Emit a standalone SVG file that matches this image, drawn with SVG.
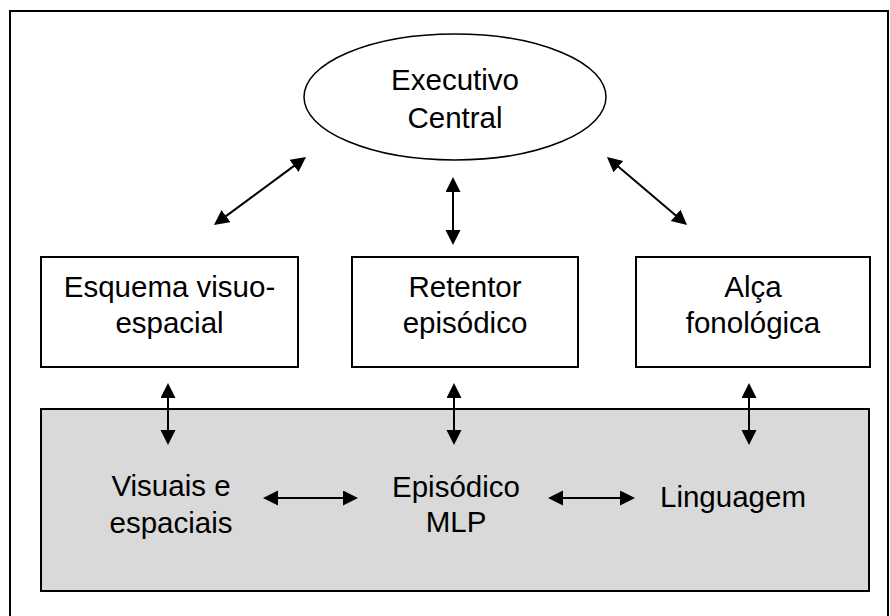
<svg xmlns="http://www.w3.org/2000/svg" width="890" height="616" viewBox="0 0 890 616">
<style>
.box{fill:#fff;stroke:#000;stroke-width:2}
.gray{fill:#d9d9d9;stroke:#000;stroke-width:2}
.t{font-family:"Liberation Sans",Arial,sans-serif;font-size:29.5px;fill:#000;text-anchor:middle}
.c{stroke:#000;stroke-width:2;fill:none;marker-start:url(#ah);marker-end:url(#ah)}
</style>
<defs>
<marker id="ah" markerUnits="userSpaceOnUse" markerWidth="18" markerHeight="16" refX="3" refY="7.5" orient="auto-start-reverse" viewBox="0 0 18 16">
<path d="M0,0 L15,7.5 L0,15 z" fill="#000"/>
</marker>
</defs>
<rect x="10" y="11" width="878" height="612" fill="#fff" stroke="#000" stroke-width="2"/>
<g id="memoria-longo-prazo">
<rect class="gray" x="41" y="409" width="828" height="182"/>
</g>
<g id="executivo-central">
<ellipse cx="455" cy="97" rx="151" ry="63" fill="#fff" stroke="#000" stroke-width="1.5"/>
<text class="t" x="455" y="90">Executivo</text>
<text class="t" x="455" y="128">Central</text>
</g>
<g id="esquema-visuoespacial">
<rect class="box" x="41" y="257" width="257" height="110"/>
<text class="t" x="169.5" y="297">Esquema visuo-</text>
<text class="t" x="169.5" y="333">espacial</text>
</g>
<g id="retentor-episodico">
<rect class="box" x="352" y="257" width="226" height="110"/>
<text class="t" x="465" y="297">Retentor</text>
<text class="t" x="465" y="333">episódico</text>
</g>
<g id="alca-fonologica">
<rect class="box" x="636" y="257" width="234" height="110"/>
<text class="t" x="753" y="297">Alça</text>
<text class="t" x="753" y="333">fonológica</text>
</g>
<g id="visuais-espaciais">
<text class="t" x="171" y="496">Visuais e</text>
<text class="t" x="171" y="533">espaciais</text>
</g>
<g id="episodico-mlp">
<text class="t" x="456" y="497">Episódico</text>
<text class="t" x="456" y="532">MLP</text>
</g>
<g id="linguagem">
<text class="t" x="733" y="507">Linguagem</text>
</g>
<g id="connectors">
<path class="c" d="M223.6,217.9 L296.4,164.1"/>
<path class="c" d="M453,189 L453,233"/>
<path class="c" d="M616.1,164.8 L677.9,217.2"/>
<path class="c" d="M168,395 L168,433"/>
<path class="c" d="M454,395 L454,433"/>
<path class="c" d="M749,395 L749,433"/>
<path class="c" d="M275,498 L346,498"/>
<path class="c" d="M560,498 L623,498"/>
</g>
</svg>
